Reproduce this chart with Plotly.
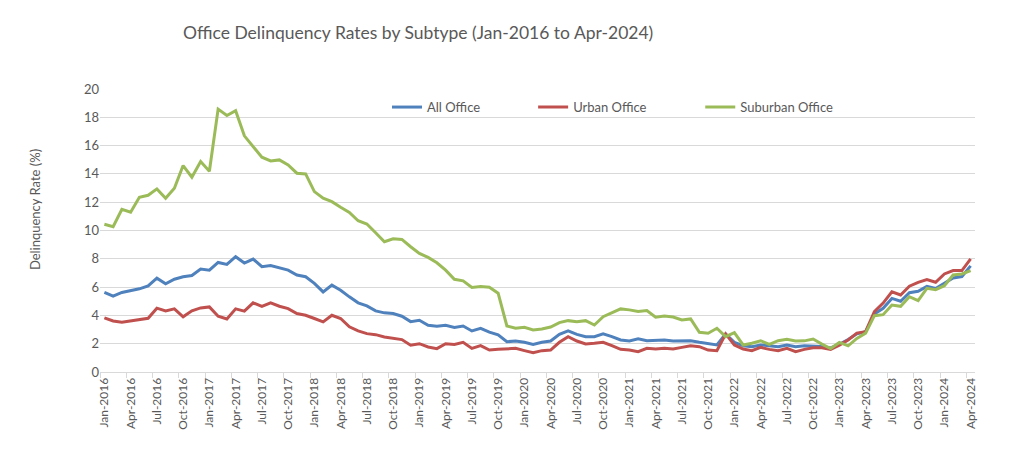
import plotly.graph_objects as go

MONTH_NAMES = ["Jan", "Feb", "Mar", "Apr", "May", "Jun", "Jul", "Aug", "Sep", "Oct", "Nov", "Dec"]
months = [f"{m}-{y}" for y in range(2016, 2025) for m in MONTH_NAMES][:100]  # Jan-2016 .. Apr-2024

all_office = [
    5.62, 5.36, 5.62, 5.74, 5.88, 6.09, 6.63, 6.23, 6.56, 6.73,
    6.82, 7.27, 7.20, 7.74, 7.60, 8.15, 7.70, 7.98, 7.44, 7.53,
    7.36, 7.20, 6.85, 6.73, 6.26, 5.66, 6.14, 5.78, 5.31, 4.89,
    4.67, 4.32, 4.18, 4.13, 3.94, 3.56, 3.66, 3.30, 3.23, 3.30,
    3.15, 3.25, 2.90, 3.09, 2.82, 2.62, 2.14, 2.19, 2.10, 1.95,
    2.10, 2.19, 2.66, 2.90, 2.66, 2.50, 2.50, 2.69, 2.50, 2.26,
    2.19, 2.35, 2.21, 2.21, 2.26, 2.19, 2.21, 2.21, 2.10, 1.98,
    1.91, 2.69, 2.10, 1.86, 1.79, 1.91, 1.86, 1.79, 1.91, 1.79,
    1.85, 1.85, 1.80, 1.70, 1.95, 2.30, 2.70, 2.85, 4.10, 4.50,
    5.20, 5.00, 5.60, 5.70, 6.05, 5.90, 6.30, 6.65, 6.75, 7.50,
]

urban_office = [
    3.83, 3.61, 3.52, 3.61, 3.68, 3.80, 4.51, 4.32, 4.46, 3.90,
    4.32, 4.53, 4.60, 3.94, 3.75, 4.46, 4.30, 4.89, 4.63, 4.89,
    4.65, 4.48, 4.13, 4.01, 3.78, 3.54, 4.01, 3.78, 3.19, 2.91,
    2.71, 2.64, 2.48, 2.36, 2.29, 1.89, 2.00, 1.77, 1.65, 2.00,
    1.95, 2.10, 1.67, 1.86, 1.55, 1.60, 1.62, 1.67, 1.51, 1.36,
    1.51, 1.55, 2.10, 2.50, 2.19, 1.98, 2.03, 2.10, 1.86, 1.60,
    1.55, 1.44, 1.67, 1.62, 1.67, 1.62, 1.74, 1.86, 1.79, 1.55,
    1.51, 2.69, 1.91, 1.62, 1.51, 1.74, 1.60, 1.51, 1.67, 1.44,
    1.60, 1.71, 1.71, 1.59, 1.90, 2.26, 2.75, 2.85, 4.26, 4.87,
    5.67, 5.44, 6.06, 6.34, 6.53, 6.34, 6.93, 7.17, 7.17, 7.99,
]

suburban_office = [
    10.44, 10.27, 11.50, 11.29, 12.35, 12.49, 12.94, 12.28, 12.99, 14.59,
    13.77, 14.88, 14.19, 18.58, 18.13, 18.47, 16.69, 15.94, 15.18, 14.92,
    14.99, 14.64, 14.05, 14.00, 12.75, 12.28, 12.04, 11.64, 11.28, 10.69,
    10.46, 9.84, 9.21, 9.42, 9.37, 8.85, 8.38, 8.10, 7.72, 7.20,
    6.55, 6.44, 5.97, 6.04, 5.99, 5.57, 3.25, 3.09, 3.16, 2.97,
    3.04, 3.18, 3.49, 3.63, 3.56, 3.63, 3.32, 3.91, 4.20, 4.46,
    4.39, 4.27, 4.34, 3.87, 3.96, 3.89, 3.68, 3.75, 2.81, 2.74,
    3.09, 2.50, 2.78, 1.91, 2.03, 2.21, 1.95, 2.21, 2.31, 2.19,
    2.20, 2.33, 1.97, 1.66, 2.09, 1.85, 2.37, 2.75, 3.98, 4.05,
    4.73, 4.64, 5.32, 5.04, 5.91, 5.82, 6.10, 6.86, 6.93, 7.17,
]

series_names = ["All Office", "Urban Office", "Suburban Office"]
series_colors = ["#4F81BD", "#C0504D", "#9BBB59"]
y_ticks = [0, 2, 4, 6, 8, 10, 12, 14, 16, 18, 20]

FONT = "Lato"
GREY = "#595959"
GRID = "#D9D9D9"

x_idx = list(range(len(months)))
tick_idx = x_idx[::3]
tick_text = months[::3]

fig = go.Figure()
legend_ids = ["legend", "legend2", "legend3"]
for name, vals, col, lg in zip(series_names, [all_office, urban_office, suburban_office], series_colors, legend_ids):
    fig.add_trace(go.Scatter(
        x=x_idx, y=vals, name=name, mode="lines",
        line=dict(color=col, width=3),
        legend=lg, showlegend=True,
    ))

W, H = 1008, 454
L, R, T, B = 92, 41, 81, 90

legend_common = dict(
    orientation="h", yanchor="middle", y=0.936, xanchor="left",
    font=dict(family=FONT, size=13, color=GREY),
    bgcolor="rgba(0,0,0,0)", borderwidth=0,
    itemclick=False, itemdoubleclick=False,
)

fig.update_layout(
    width=W, height=H,
    showlegend=True,
    margin=dict(l=L, r=R, t=T, b=B),
    paper_bgcolor="white", plot_bgcolor="white",
    font=dict(family=FONT, color=GREY),
    title=dict(
        text="Office Delinquency Rates by Subtype (Jan-2016 to Apr-2024)",
        x=175 / W, xanchor="left", xref="container",
        y=1 - 25 / H, yanchor="middle", yref="container",
        font=dict(family=FONT, size=17.5, color=GREY),
    ),
    legend=dict(x=0.328, **legend_common),
    legend2=dict(x=0.495, **legend_common),
    legend3=dict(x=0.686, **legend_common),
    xaxis=dict(
        range=[-0.5, 99.5],
        tickmode="array", tickvals=tick_idx, ticktext=tick_text,
        tickangle=-90, ticks="",
        tickfont=dict(family=FONT, size=12, color=GREY),
        showgrid=False, zeroline=False,
        showline=True, linecolor=GRID, linewidth=1,
        minor=dict(tick0=-0.5, dtick=3, ticks="outside", ticklen=5,
                   tickcolor=GRID, tickwidth=1, showgrid=False),
    ),
    yaxis=dict(
        range=[0, 20], tickmode="array", tickvals=y_ticks,
        tickfont=dict(family=FONT, size=13, color=GREY),
        showgrid=True, gridcolor=GRID, gridwidth=1,
        zeroline=False, showline=False, ticks="",
    ),
    annotations=[dict(
        text="Delinquency Rate (%)", textangle=-90,
        xref="paper", yref="paper", x=(27 - L) / (W - L - R), y=0.572,
        xanchor="center", yanchor="middle", showarrow=False,
        font=dict(family=FONT, size=13, color=GREY),
    )],
)

fig.write_html("out.html", config={"displayModeBar": False})
